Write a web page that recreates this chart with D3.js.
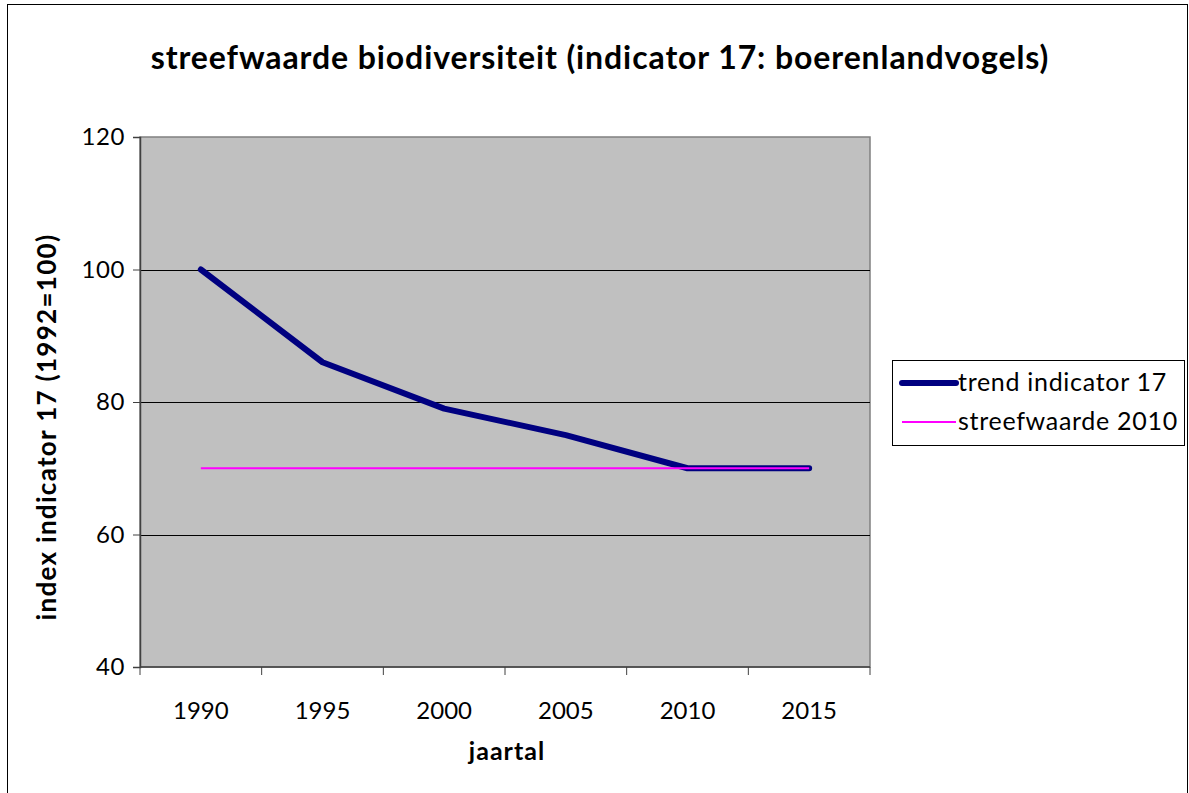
<!DOCTYPE html>
<html>
<head>
<meta charset="utf-8">
<script src="https://cdn.jsdelivr.net/npm/d3@7"></script>
<style>
  body { margin: 0; background: #fff; }
  svg { display: block; font-family: Lato, "Open Sans", sans-serif; }
</style>
</head>
<body>
<svg id="chart"></svg>
<script>
const years = ['1990', '1995', '2000', '2005', '2010', '2015'];
const trend = [100, 86, 79, 75, 70, 70];
const target = [70, 70, 70, 70, 70, 70];
const yTicks = [40, 60, 80, 100, 120];
const seriesNames = ['trend indicator 17', 'streefwaarde 2010'];

const width = 1189;
const height = 793;
const plot = { left: 140, top: 137, right: 870, bottom: 667 };

const svg = d3.select('#chart').attr('width', width).attr('height', height);

// outer chart border
svg.append('rect')
  .attr('x', 7.5).attr('y', 4.5)
  .attr('width', 1180).attr('height', 800)
  .attr('fill', 'none').attr('stroke', '#000').attr('stroke-width', 1);

const x = d3.scaleBand()
  .domain(years)
  .range([plot.left, plot.right]);

const y = d3.scaleLinear()
  .domain([40, 120])
  .range([plot.bottom, plot.top]);

// plot area
svg.append('rect')
  .attr('x', plot.left).attr('y', plot.top)
  .attr('width', plot.right - plot.left).attr('height', plot.bottom - plot.top)
  .attr('fill', '#c0c0c0')
  .attr('stroke', '#808080').attr('stroke-width', 1.5);

// gridlines
svg.append('g')
  .selectAll('line')
  .data(yTicks.filter(d => d > 40 && d < 120))
  .join('line')
  .attr('x1', plot.left).attr('x2', plot.right)
  .attr('y1', d => Math.round(y(d)) + 0.5).attr('y2', d => Math.round(y(d)) + 0.5)
  .attr('stroke', '#000').attr('stroke-width', 1);

// y axis
svg.append('g')
  .attr('transform', `translate(${plot.left},0)`)
  .call(d3.axisLeft(y).tickValues(yTicks).tickSize(7).tickPadding(8))
  .call(g => g.select('.domain').attr('stroke', '#404040').attr('stroke-width', 1.5))
  .call(g => g.selectAll('.tick line').attr('stroke', '#404040'))
  .call(g => g.selectAll('.tick text').attr('font-size', 24).attr('fill', '#000')
    .attr('font-family', 'Lato').attr('letter-spacing', 0.6));

// x axis: ticks between categories
const xBoundaries = years.map(d => x(d)).concat([plot.right]);
const xAxis = svg.append('g').attr('transform', `translate(0,${plot.bottom})`);
xAxis.append('line')
  .attr('x1', plot.left).attr('x2', plot.right)
  .attr('stroke', '#404040').attr('stroke-width', 1.5);
xAxis.selectAll('line.tk')
  .data(xBoundaries)
  .join('line')
  .attr('class', 'tk')
  .attr('x1', d => d).attr('x2', d => d)
  .attr('y1', 0).attr('y2', 8)
  .attr('stroke', '#404040');
xAxis.selectAll('text')
  .data(years)
  .join('text')
  .attr('x', d => x(d) + x.bandwidth() / 2)
  .attr('y', 52)
  .attr('text-anchor', 'middle')
  .attr('font-size', 24)
  .text(d => d);

// series
const line = d3.line()
  .x((d, i) => x(years[i]) + x.bandwidth() / 2)
  .y(d => y(d));

svg.append('path')
  .datum(trend)
  .attr('d', line)
  .attr('fill', 'none')
  .attr('stroke', '#000080')
  .attr('stroke-width', 6)
  .attr('stroke-linecap', 'round')
  .attr('stroke-linejoin', 'round');

svg.append('path')
  .datum(target)
  .attr('d', line)
  .attr('fill', 'none')
  .attr('stroke', '#ff00ff')
  .attr('stroke-width', 2);

// title
svg.append('text')
  .attr('x', 600).attr('y', 69)
  .attr('text-anchor', 'middle')
  .attr('font-size', 32).attr('font-weight', 'bold')
  .attr('letter-spacing', 0.9)
  .text('streefwaarde biodiversiteit (indicator 17: boerenlandvogels)');

// axis titles
svg.append('text')
  .attr('x', 507).attr('y', 760)
  .attr('text-anchor', 'middle')
  .attr('font-size', 25).attr('font-weight', 'bold')
  .attr('letter-spacing', 1)
  .text('jaartal');

svg.append('text')
  .attr('transform', `translate(56,${(plot.top + plot.bottom) / 2 + 25}) rotate(-90)`)
  .attr('text-anchor', 'middle')
  .attr('font-size', 26).attr('font-weight', 'bold')
  .attr('letter-spacing', 1.3)
  .text('index indicator 17 (1992=100)');

// legend
const legend = svg.append('g').attr('transform', 'translate(892,360)');
legend.append('rect')
  .attr('x', 0.5).attr('y', 0.5).attr('width', 292).attr('height', 85)
  .attr('fill', '#fff').attr('stroke', '#000').attr('stroke-width', 1);
const legendStyles = [
  { color: '#000080', width: 6 },
  { color: '#ff00ff', width: 2 }
];
seriesNames.forEach((name, i) => {
  const cy = 23 + i * 39;
  legend.append('line')
    .attr('x1', 10).attr('x2', 64).attr('y1', cy).attr('y2', cy)
    .attr('stroke', legendStyles[i].color)
    .attr('stroke-width', legendStyles[i].width)
    .attr('stroke-linecap', i === 0 ? 'round' : 'butt');
  legend.append('text')
    .attr('x', 66).attr('y', cy + 8)
    .attr('font-size', 25)
    .attr('letter-spacing', 0.7)
    .text(name);
});
</script>
</body>
</html>
